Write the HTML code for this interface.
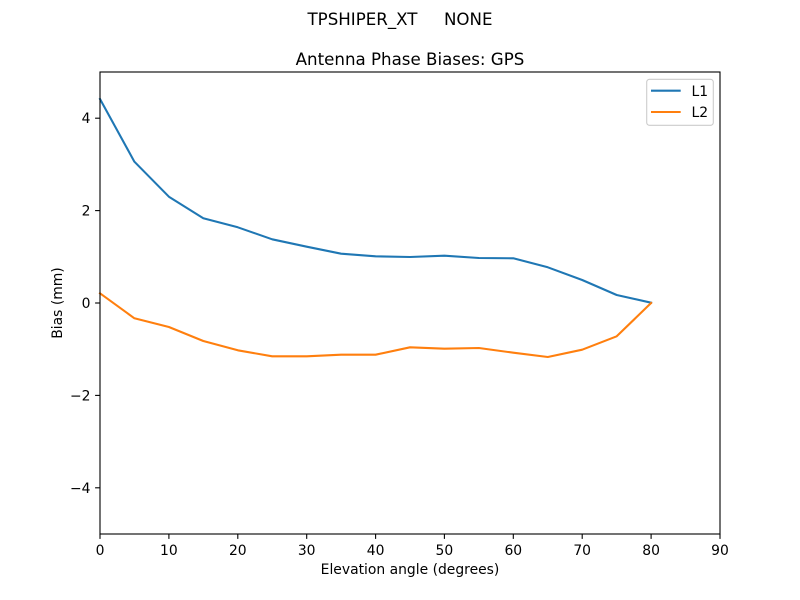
<!DOCTYPE html>
<html>
<head>
<meta charset="utf-8">
<style>
html,body{margin:0;padding:0;background:#fff;}
svg{display:block;}
text{font-family:"DejaVu Sans","Liberation Sans",sans-serif;fill:#000;}
</style>
</head>
<body>
<svg width="800" height="600" viewBox="0 0 800 600" xmlns="http://www.w3.org/2000/svg">
<rect x="0" y="0" width="800" height="600" fill="#fff"/>
<text x="400" y="25" font-size="16.67" text-anchor="middle" xml:space="preserve" style="white-space:pre">TPSHIPER_XT     NONE</text>
<text x="410" y="65" font-size="16.67" text-anchor="middle">Antenna Phase Biases: GPS</text>

<!-- series -->
<polyline fill="none" stroke="#1f77b4" stroke-width="2.08" stroke-linejoin="round" stroke-linecap="square"
points="100,99 134.4,161.7 168.9,196.7 203.3,218.3 237.8,227.3 272.2,239.3 306.7,246.7 341.1,253.7 375.6,256.3 410,257 444.4,255.7 478.9,258 513.3,258.3 547.8,267.3 582.2,280 616.7,295 651.1,302.7"/>
<polyline fill="none" stroke="#ff7f0e" stroke-width="2.08" stroke-linejoin="round" stroke-linecap="square"
points="100,293.3 134.4,318.3 168.9,327 203.3,341 237.8,350.3 272.2,356.3 306.7,356.3 341.1,354.7 375.6,354.7 410,347.3 444.4,348.7 478.9,348 513.3,352.7 547.8,357 582.2,349.7 616.7,336.3 651.1,303"/>

<!-- axes frame -->
<rect x="100" y="72" width="620" height="462" fill="none" stroke="#000" stroke-width="1.1"/>

<!-- x ticks -->
<g stroke="#000" stroke-width="1.1">
<line x1="100" y1="534" x2="100" y2="538.9"/>
<line x1="168.9" y1="534" x2="168.9" y2="538.9"/>
<line x1="237.8" y1="534" x2="237.8" y2="538.9"/>
<line x1="306.7" y1="534" x2="306.7" y2="538.9"/>
<line x1="375.6" y1="534" x2="375.6" y2="538.9"/>
<line x1="444.4" y1="534" x2="444.4" y2="538.9"/>
<line x1="513.3" y1="534" x2="513.3" y2="538.9"/>
<line x1="582.2" y1="534" x2="582.2" y2="538.9"/>
<line x1="651.1" y1="534" x2="651.1" y2="538.9"/>
<line x1="720" y1="534" x2="720" y2="538.9"/>
</g>
<g font-size="13.9" text-anchor="middle">
<text x="100" y="555">0</text>
<text x="168.9" y="555">10</text>
<text x="237.8" y="555">20</text>
<text x="306.7" y="555">30</text>
<text x="375.6" y="555">40</text>
<text x="444.4" y="555">50</text>
<text x="513.3" y="555">60</text>
<text x="582.2" y="555">70</text>
<text x="651.1" y="555">80</text>
<text x="720" y="555">90</text>
</g>
<text x="410" y="574" font-size="13.9" text-anchor="middle">Elevation angle (degrees)</text>

<!-- y ticks -->
<g stroke="#000" stroke-width="1.1">
<line x1="95.1" y1="118.2" x2="100" y2="118.2"/>
<line x1="95.1" y1="210.6" x2="100" y2="210.6"/>
<line x1="95.1" y1="303" x2="100" y2="303"/>
<line x1="95.1" y1="395.4" x2="100" y2="395.4"/>
<line x1="95.1" y1="487.8" x2="100" y2="487.8"/>
</g>
<g font-size="13.9" text-anchor="end">
<text x="90.5" y="123.2">4</text>
<text x="90.5" y="215.6">2</text>
<text x="90.5" y="308">0</text>
<text x="90.5" y="400.4">−2</text>
<text x="90.5" y="492.8">−4</text>
</g>
<text x="0" y="0" font-size="13.9" text-anchor="middle" transform="translate(62,303) rotate(-90)">Bias (mm)</text>

<!-- legend -->
<rect x="646.7" y="79.3" width="66.6" height="46" rx="2.8" ry="2.8" fill="#fff" fill-opacity="0.8" stroke="#cccccc" stroke-width="1.1"/>
<line x1="651" y1="90.7" x2="680.7" y2="90.7" stroke="#1f77b4" stroke-width="2.08"/>
<line x1="651" y1="112" x2="680.7" y2="112" stroke="#ff7f0e" stroke-width="2.08"/>
<text x="691.5" y="96" font-size="13.9">L1</text>
<text x="691.5" y="117" font-size="13.9">L2</text>
</svg>
</body>
</html>
